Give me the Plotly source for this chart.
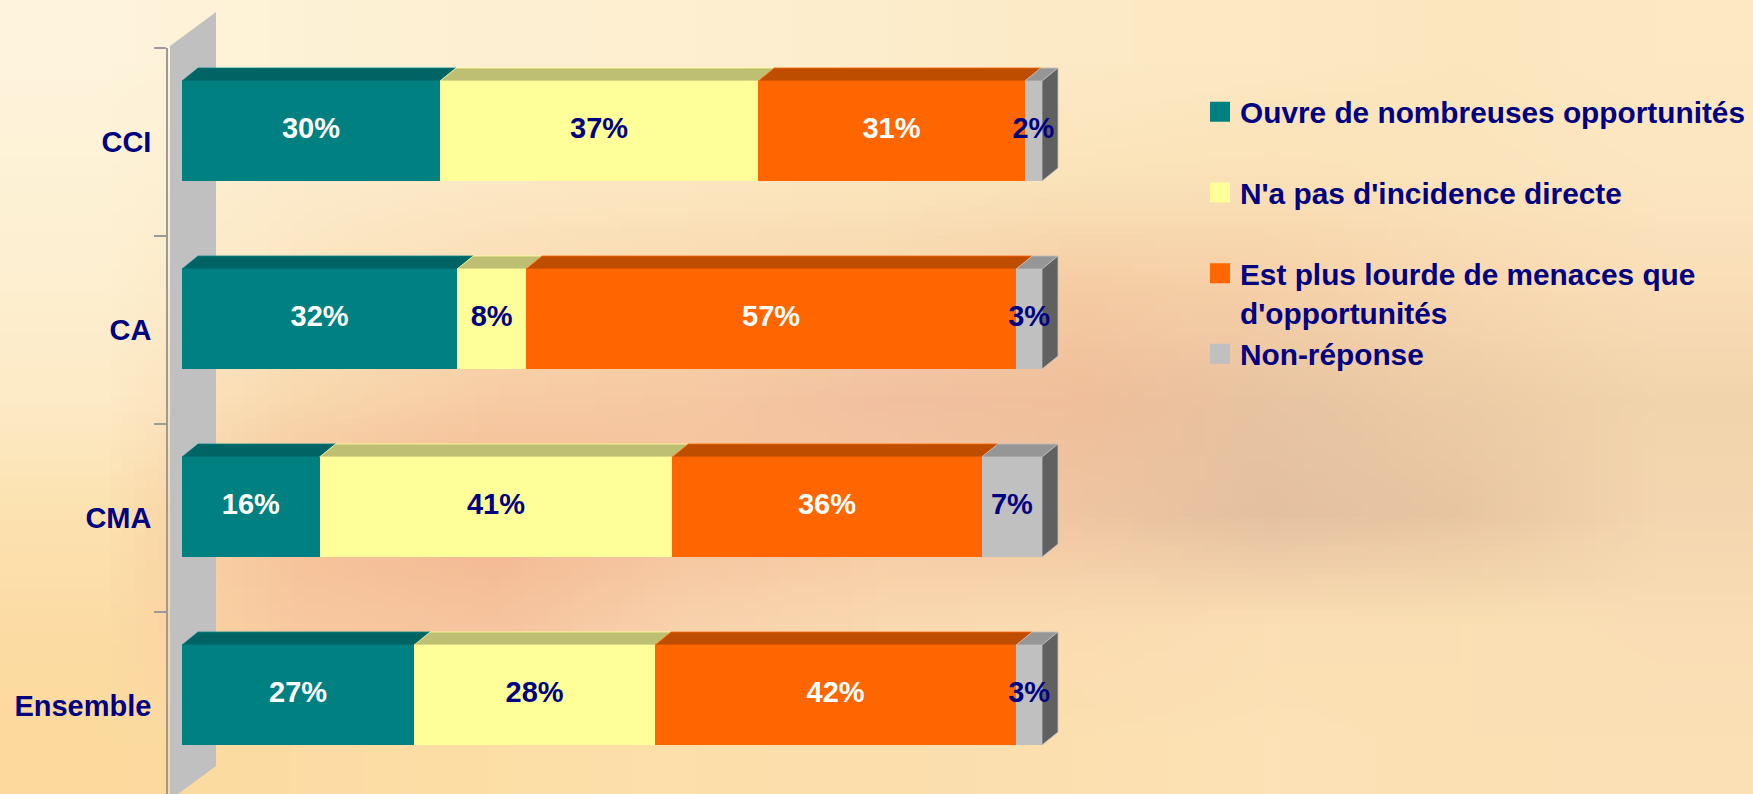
import zlib, struct, base64
import plotly.graph_objects as go

# ---------------- data ----------------
categories = ["CCI", "CA", "CMA", "Ensemble"]
series_names = [
    "Ouvre de nombreuses opportunités",
    "N'a pas d'incidence directe",
    "Est plus lourde de menaces que<br>d'opportunités",
    "Non-réponse",
]
ouvre = [30, 32, 16, 27]
sans_incidence = [37, 8, 41, 28]
menaces = [31, 57, 36, 42]
non_reponse = [2, 3, 7, 3]
series_values = [ouvre, sans_incidence, menaces, non_reponse]

# ---------------- styles ----------------
front_colors = ["#008080", "#FFFF99", "#FF6600", "#C0C0C0"]
top_colors = ["#006464", "#BFBF73", "#BF4D00", "#969696"]
side_color = "#606060"
label_colors = ["#FFFFFF", "#000080", "#FFFFFF", "#000080"]
legend_groups = ["g1", "g2", "g3", "g3"]
NAVY = "#000080"
FONT = "Liberation Sans, Arial, sans-serif"
FS = 29
LEGEND_FS = 29.8

W, H = 1753, 794
PX_PER_PCT = 8.6        # pixels per percent
PX_PER_CAT = 188        # pixels per category
X0_PX = 182             # pixel of 0 %
AXIS_PX = 168           # left axis (front plane)
TOP_PX = 48             # top of front plane
RIGHT_PX = 1195
BAR_PX = 100
BAR_SHIFT_PX = 11
DEPTH_DX, DEPTH_DY = 16, 13
WALL_FRONT_X, WALL_DX, WALL_DY = 170, 46, 34
WALL_TOP, WALL_BOT = 46, 800

L, R, T, B = AXIS_PX, W - RIGHT_PX, TOP_PX, 0
PW, PH = W - L - R, H - T - B

x_range = [(L - X0_PX) / PX_PER_PCT, (W - R - X0_PX) / PX_PER_PCT]
y_top = -0.5
y_bottom = y_top + PH / PX_PER_CAT

bar_w = BAR_PX / PX_PER_CAT
shift = BAR_SHIFT_PX / PX_PER_CAT
ddx = DEPTH_DX / PX_PER_PCT
ddy = DEPTH_DY / PX_PER_CAT

ypos = [i - shift for i in range(len(categories))]


def px2paper(px, py):
    return (px - L) / PW, 1 - (py - T) / PH


# ---------------- background image ----------------
bg_grid = [
    "FEF4DC FEF2D6 FDF0D2 FDEFD0 FCEDCC FCEAC6 FCE8C2 FCE6BE FCE8C2",
    "FEF2D6 FCEBCC FCE9C6 FCE8C2 FBE6BE FBE4BA FBE2B8 FBE4BC FCE6C0",
    "FDEFD0 FCE6C0 FBDDB4 F9D8AE F8D6AC F5CCA4 F6D0A8 F8D8B0 FADEB8",
    "FDEAC6 F9D8AE F7CCA4 F6C8A2 F2C0A0 F0BE9A E8C4A2 ECCCA6 F2D4AC",
    "FCE2B0 F5C098 F3B690 F5C29C F6C8A2 EFC6A2 E4C0A0 E8C6A2 F4D6B0",
    "FCDCA4 F8C8A0 F6C49E F8D2AC FAD8B0 FBDCB2 FCDFB4 FBE0B4 FADDB4",
    "FCDA9E FCDCA4 FDDFA6 FCDFAA FBDEAC FCE0B0 FCE2B6 FBE0B4 FBE0B6",
]


def make_png(rows):
    pix = [[bytes.fromhex(c) for c in r.split()] for r in rows]
    h, w = len(pix), len(pix[0])
    raw = b"".join(b"\x00" + b"".join(row) for row in pix)

    def chunk(tag, data):
        return (struct.pack(">I", len(data)) + tag + data
                + struct.pack(">I", zlib.crc32(tag + data) & 0xFFFFFFFF))

    png = (b"\x89PNG\r\n\x1a\n"
           + chunk(b"IHDR", struct.pack(">IIBBBBB", w, h, 8, 2, 0, 0, 0))
           + chunk(b"IDAT", zlib.compress(raw))
           + chunk(b"IEND", b""))
    return "data:image/png;base64," + base64.b64encode(png).decode()


fig = go.Figure()

# ---------------- bars (front faces) ----------------
for j, vals in enumerate(series_values):
    fig.add_trace(go.Bar(
        x=vals, y=ypos, orientation="h", width=bar_w,
        marker=dict(color=front_colors[j], line=dict(width=0)),
        name=series_names[j].replace("<br>", " "),
        showlegend=False, hoverinfo="x+name",
    ))

# ---------------- 3D faces ----------------
shapes = []
n_series = len(series_values)
for i in range(len(categories)):
    cum = 0
    ytop = ypos[i] - bar_w / 2
    ybot = ypos[i] + bar_w / 2
    for j, vals in enumerate(series_values):
        x0, x1 = cum, cum + vals[i]
        cum = x1
        shapes.append(dict(
            type="path", xref="x", yref="y", layer="below",
            path=f"M{x0},{ytop} L{x1},{ytop} L{x1 + ddx},{ytop - ddy} L{x0 + ddx},{ytop - ddy} Z",
            fillcolor=top_colors[j], line=dict(width=0.8, color=front_colors[j]),
        ))
        if j == n_series - 1:
            shapes.append(dict(
                type="path", xref="x", yref="y", layer="below",
                path=f"M{x1},{ytop} L{x1 + ddx},{ytop - ddy} L{x1 + ddx},{ybot - ddy} L{x1},{ybot} Z",
                fillcolor=side_color, line=dict(width=0.8, color=front_colors[j]),
            ))

# left wall
fx0, fy0 = px2paper(WALL_FRONT_X, WALL_TOP)
bx0, by0 = px2paper(WALL_FRONT_X + WALL_DX, WALL_TOP - WALL_DY)
bx1, by1 = px2paper(WALL_FRONT_X + WALL_DX, WALL_BOT - WALL_DY)
fx1, fy1 = px2paper(WALL_FRONT_X, WALL_BOT)
shapes.append(dict(
    type="path", xref="paper", yref="paper", layer="below",
    path=f"M{fx0},{fy0} L{bx0},{by0} L{bx1},{by1} L{fx1},{fy1} Z",
    fillcolor="#C0C0C0", line=dict(width=0),
))

# ---------------- data labels ----------------
for j, vals in enumerate(series_values):
    centers = []
    for i in range(len(categories)):
        base = sum(series_values[k][i] for k in range(j))
        centers.append(base + vals[i] / 2)
    fig.add_trace(go.Scatter(
        x=centers, y=ypos, mode="text",
        text=[f"{v}%" for v in vals], textposition="middle center",
        textfont=dict(family=FONT, size=FS, color=label_colors[j], weight="bold"),
        showlegend=False, hoverinfo="skip",
    ))

# ---------------- legend entries ----------------
for j, name in enumerate(series_names):
    fig.add_trace(go.Scatter(
        x=[None], y=[None], mode="markers", name=name,
        legendgroup=legend_groups[j],
        marker=dict(symbol="square", size=16, color=front_colors[j],
                    line=dict(width=4, color=front_colors[j])),
    ))

bx, by = px2paper(0, 0)
fig.update_layout(
    width=W, height=H, autosize=False,
    margin=dict(l=L, r=R, t=T, b=B, pad=0),
    paper_bgcolor="#FCE6BE", plot_bgcolor="rgba(0,0,0,0)",
    barmode="stack", bargap=0,
    shapes=shapes,
    images=[dict(
        source=make_png(bg_grid), xref="paper", yref="paper",
        x=bx, y=by, sizex=W / PW, sizey=H / PH,
        xanchor="left", yanchor="top", sizing="stretch", layer="below",
    )],
    xaxis=dict(range=x_range, visible=False, showgrid=False, zeroline=False, fixedrange=True),
    yaxis=dict(
        range=[y_bottom, y_top], tickmode="array",
        tickvals=list(range(len(categories))), ticktext=categories,
        ticks="", showgrid=False, zeroline=False,
        showline=True, linecolor="#9A9A9A", linewidth=1.5,
        tickfont=dict(family=FONT, size=FS, color=NAVY, weight="bold"),
        ticklabelstandoff=9,
        minor=dict(tickmode="array", tickvals=[i - 0.5 for i in range(len(categories))],
                   ticks="outside", ticklen=12, tickcolor="#9A9A9A", tickwidth=1.5,
                   showgrid=False),
        fixedrange=True,
    ),
    legend=dict(
        xref="container", yref="container",
        x=1200 / W, y=1 - 86 / H, xanchor="left", yanchor="top",
        bgcolor="rgba(0,0,0,0)", borderwidth=0,
        font=dict(family=FONT, size=LEGEND_FS, color=NAVY, weight="bold"),
        traceorder="grouped", tracegroupgap=39, valign="top",
        itemclick=False, itemdoubleclick=False,
    ),
    showlegend=True,
)

fig.write_html(
    "out.html",
    config={"displayModeBar": False},
    post_script="document.body.style.margin='0';document.body.style.padding='0';"
                "document.body.style.overflow='hidden';",
)
